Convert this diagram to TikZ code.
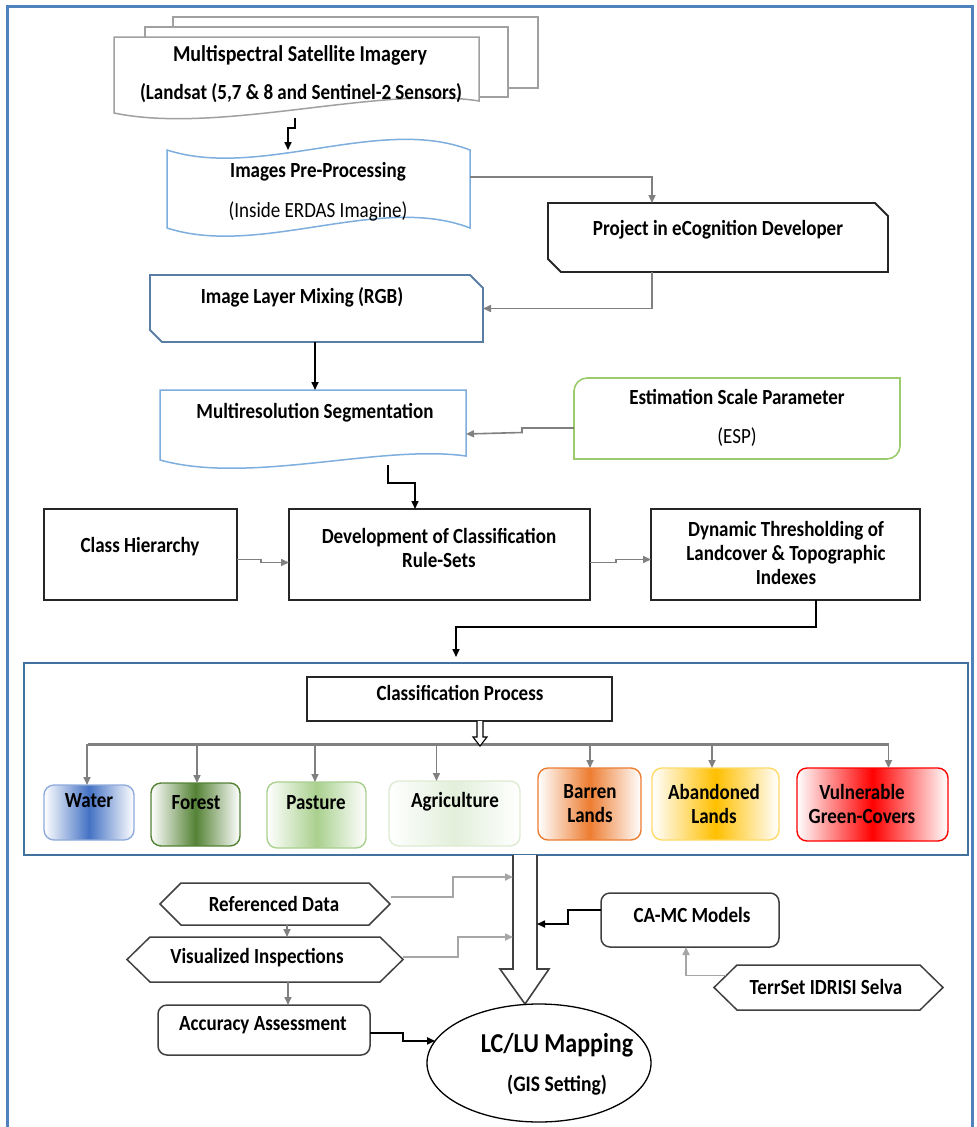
\documentclass[tikz,border=0pt]{standalone}
\usepackage{fontspec}
\setmainfont[FakeStretch=0.88]{Carlito}
\usetikzlibrary{arrows.meta,calc,shapes.geometric}
\definecolor{frameblue}{HTML}{4F81BD}
\definecolor{contblue}{HTML}{41719C}
\definecolor{docblue}{HTML}{7EAEDD}
\definecolor{slate}{HTML}{5A7DA6}
\definecolor{espgreen}{HTML}{9CCB6B}
\definecolor{docgray}{HTML}{A0A0A0}
\definecolor{lgray}{HTML}{A6A6A6}
\definecolor{mgray}{HTML}{808080}
\definecolor{dgray}{HTML}{404040}
\definecolor{cWater}{HTML}{4472C4}
\definecolor{cWaterL}{HTML}{8FAADC}
\definecolor{cForest}{HTML}{548235}
\definecolor{cPasture}{HTML}{A9D08E}
\definecolor{cAgri}{HTML}{E2EFDA}
\definecolor{cAgriL}{HTML}{DDEBD3}
\definecolor{cBarren}{HTML}{ED7D31}
\definecolor{cAband}{HTML}{FFC000}
\definecolor{cAbandL}{HTML}{FFD966}
\definecolor{cVuln}{HTML}{FF0000}
\begin{document}
\begin{tikzpicture}[x=1pt,y=-1pt,
  hid/.style={inner sep=0pt,outer sep=0pt},
  txt/.style={font=\fontsize{21.6}{24}\selectfont\bfseries,inner sep=0pt,align=center},
  txtr/.style={font=\fontsize{21.6}{24}\selectfont,inner sep=0pt,align=center},
  blk/.style={draw=black,line width=1.6pt,-{Triangle[length=8pt,width=7pt]}},
  gry/.style={draw=mgray,line width=1.6pt,-{Triangle[length=8pt,width=7pt]}},
  lgry/.style={draw=lgray,line width=1.6pt,-{Triangle[length=8pt,width=7pt]}},
  sqbox/.style={hid,draw=black!85,line width=1.6pt},
  rbox/.style={hid,draw=dgray,line width=1.5pt,rounded corners=9pt},
  cls/.style 2 args={hid,draw=#2,line width=1.4pt,rounded corners=10pt,
     left color=white,right color=white,middle color=#1}]
\useasboundingbox (0,0) rectangle (977,1127);

% outer frame
\draw[frameblue,line width=3pt] (7.5,1130) -- (7.5,6) -- (972,6) -- (972,1130);

% ---------- multi document ----------
\node[hid,minimum width=365pt,minimum height=79pt] (msi) at (296.5,76.5) {};
\draw[docgray,line width=1.5pt] (173,27) -- (173,17) -- (538,17) -- (538,88) -- (508,88);
\draw[docgray,line width=1.5pt] (145,37) -- (145,27) -- (508,27) -- (508,97) -- (479,97);
\draw[docgray,line width=1.5pt,fill=white] (114,37) -- (479,37) -- (479,101)
   .. controls (380,85) and (220,135) .. (114,113) -- cycle;
\node[txt,font=\fontsize{22.7}{24}\selectfont\bfseries] (msit) at (300,55) {Multispectral Satellite Imagery};
\node[txt] (msis) at (301,93) {(Landsat (5,7 \& 8 and Sentinel-2 Sensors)};

% ---------- images pre-processing (tape) ----------
\node[hid,minimum width=303pt,minimum height=84pt] (pre) at (318.5,192) {};
\draw[docblue,line width=1.5pt] (167,150) .. controls (260,180) and (380,115) .. (470,150)
   -- (470,228) .. controls (380,193) and (260,258) .. (167,228) -- cycle;
\node[txt] (pret) at (318,172) {Images Pre-Processing};
\node[txtr] (pres) at (318,211) {(Inside ERDAS Imagine)};

% ---------- eCognition ----------
\node[hid,minimum width=340pt,minimum height=69pt] (eco) at (718,237.5) {};
\draw[black!85,line width=1.8pt] (548,203) -- (875,203) -- (888,216) -- (888,272)
   -- (561,272) -- (548,259) -- cycle;
\node[txt] (ecot) at (718,230) {Project in eCognition Developer};

% ---------- image layer mixing ----------
\node[hid,minimum width=333pt,minimum height=67pt] (ilm) at (316.5,308.5) {};
\draw[slate,line width=1.8pt] (150,275) -- (470,275) -- (483,288) -- (483,342)
   -- (162,342) -- (150,330) -- cycle;
\node[txt] (ilmt) at (302,297) {Image Layer Mixing (RGB)};

% ---------- multiresolution segmentation ----------
\node[hid,minimum width=306pt,minimum height=72pt] (mrs) at (313,426) {};
\draw[docblue,line width=1.5pt] (160,390) -- (466,390) -- (466,456)
   .. controls (380,444) and (250,485) .. (160,460) -- cycle;
\node[txt] (mrst) at (315,413) {Multiresolution Segmentation};

% ---------- ESP ----------
\node[hid,minimum width=326pt,minimum height=81pt] (esp) at (737,418.5) {};
\draw[espgreen,line width=1.6pt] (574,459) -- (574,391) .. controls (574,384) and (580,378) .. (587,378)
   -- (900,378) -- (900,446) .. controls (900,453) and (894,459) .. (887,459) -- cycle;
\node[txt] (espt) at (737,397) {Estimation Scale Parameter};
\node[txtr] (esps) at (737,437) {(ESP)};

% ---------- row of three ----------
\node[sqbox,minimum width=193pt,minimum height=91pt] (ch) at (140.5,554.5) {};
\node[txt] (cht) at (140,547) {Class Hierarchy};
\node[sqbox,minimum width=301pt,minimum height=91pt] (dev) at (439.5,554.5) {};
\node[txt] (devt) at (439,548) {Development of Classification\\Rule-Sets};
\node[sqbox,minimum width=269pt,minimum height=91pt] (dyn) at (785.5,554.5) {};
\node[txt] (dynt) at (786,553) {Dynamic Thresholding of\\Landcover \& Topographic\\Indexes};

% ---------- classification container ----------
\node[hid,draw=contblue,line width=1.6pt,minimum width=944pt,minimum height=192pt] (cont) at (496,759) {};
\node[sqbox,minimum width=305pt,minimum height=44pt] (cp) at (459.5,699) {};
\node[txt] (cpt) at (460,693) {Classification Process};

\draw[mgray,line width=3pt] (88,744) -- (889,744);
\draw[black,line width=1.1pt,fill=white] (477,721) -- (477,737) -- (473,737) -- (480,746)
   -- (487,737) -- (483,737) -- (483,721);

\node[cls={cWater}{cWaterL},minimum width=90pt,minimum height=55pt] (water) at (89,812.5) {};
\node[txt] (watert) at (89,801) {Water};
\node[cls={cForest}{cForest},minimum width=89pt,minimum height=63pt] (forest) at (195.5,814.5) {};
\node[txt] (forestt) at (196,803) {Forest};
\node[cls={cPasture}{cPasture},minimum width=99pt,minimum height=66pt] (pasture) at (316.5,815) {};
\node[txt] (pasturet) at (316,803) {Pasture};
\node[cls={cAgri}{cAgriL},minimum width=131pt,minimum height=65pt] (agri) at (454.5,813.5) {};
\node[txt] (agrit) at (455,802) {Agriculture};
\node[cls={cBarren}{cBarren},minimum width=103pt,minimum height=72pt] (barren) at (589.5,804) {};
\node[txt] (barrent) at (590,803.5) {Barren\\Lands};
\node[cls={cAband}{cAbandL},minimum width=127pt,minimum height=72pt] (aband) at (715.5,804) {};
\node[txt] (abandt) at (714,803.5) {Abandoned\\Lands};
\node[cls={cVuln}{cVuln},minimum width=151pt,minimum height=73pt] (vuln) at (872.5,804.5) {};
\node[txt] (vulnt) at (862,803.5) {Vulnerable\\Green-Covers};

\draw[gry] ($(water.north)+(-2,-41)$) -- ($(water.north)+(-2,0)$);
\draw[gry] ($(forest.north)+(1.5,-39)$) -- ($(forest.north)+(1.5,0)$);
\draw[gry] ($(pasture.north)+(-1.5,-38)$) -- ($(pasture.north)+(-1.5,0)$);
\draw[gry] ($(agri.north)+(-18,-37)$) -- ($(agri.north)+(-18,0)$);
\draw[gry] ($(barren.north)+(0.5,-24)$) -- ($(barren.north)+(0.5,0)$);
\draw[gry] ($(aband.north)+(-3.5,-24)$) -- ($(aband.north)+(-3.5,0)$);
\draw[gry] ($(vuln.north)+(16,-24)$) -- ($(vuln.north)+(16,0)$);

% ---------- big hollow arrow ----------
\draw[dgray,line width=1.6pt,fill=white] (513,855) -- (513,969) -- (500,969) -- (525,1004)
   -- (549,969) -- (537,969) -- (537,855);
\coordinate (bigL1) at (513,877);
\coordinate (bigL2) at (513,937);
\coordinate (bigR) at (537,924);

% ---------- bottom area ----------
\node[hid,minimum width=230pt,minimum height=42pt] (ref) at (275,904) {};
\draw[dgray,line width=1.5pt] (160,904) -- (181,883) -- (369,883) -- (390,904) -- (369,925) -- (181,925) -- cycle;
\node[txt] (reft) at (274,904) {Referenced Data};

\node[hid,minimum width=276pt,minimum height=45pt] (vis) at (265,959.5) {};
\draw[dgray,line width=1.5pt] (127,959.5) -- (150,937) -- (380,937) -- (403,959.5) -- (380,982) -- (150,982) -- cycle;
\node[txt] (vist) at (257,958) {Visualized Inspections};

\node[rbox,minimum width=212pt,minimum height=50pt] (acc) at (264,1030) {};
\node[txt] (acct) at (263,1025) {Accuracy Assessment};

\node[hid,draw=black,line width=1.3pt,ellipse,minimum width=224pt,minimum height=118pt] (lclu) at (539,1063) {};
\node[txt,font=\fontsize{27.3}{28}\selectfont\bfseries] (lclut) at (557,1045) {LC/LU Mapping};
\node[txt,font=\fontsize{22.2}{24}\selectfont\bfseries] (lclus) at (557,1085) {(GIS Setting)};

\node[rbox,minimum width=178pt,minimum height=54pt] (camc) at (690,920) {};
\node[txt] (camct) at (692,915) {CA-MC Models};

\node[hid,minimum width=229pt,minimum height=45pt] (terr) at (828.5,987.5) {};
\draw[dgray,line width=1.5pt] (714,987.5) -- (737,965) -- (920,965) -- (943,987.5) -- (920,1010) -- (737,1010) -- cycle;
\node[txt] (terrt) at (826,987) {TerrSet IDRISI Selva};

% ---------- connectors ----------
\draw[blk] ($(msi.south)+(-1.5,2)$) -- ++(0,10) -| ($(pre.north)+(-30.5,0)$);
\draw[gry] ($(pre.east)+(0,-15)$) -| ($(eco.north)+(-66,0)$);
\draw[gry] ($(eco.south)+(-66,0)$) |- (ilm.east);
\draw[blk] ($(ilm.south)+(-1.5,0)$) -- ($(mrs.north)+(2,0)$);
\draw[gry] ($(esp.west)+(0,9.5)$) -- ++(-52,0) -- ++(0,4.5) -- ($(mrs.east)+(0,8)$);
\draw[blk] ($(mrs.south)+(75,3)$) -- ++(0,18) -| ($(dev.north)+(-24.5,0)$);
\draw[gry] ($(ch.east)+(0,5)$) -- ++(24,0) -- ++(0,3) -- ($(dev.west)+(0,8)$);
\draw[gry] ($(dev.east)+(0,8)$) -- ++(26,0) -- ++(0,-3) -- ($(dyn.west)+(0,5)$);
\draw[blk] ($(dyn.south)+(30.5,0)$) -- ++(0,27) -| ($(cont.north)+(-40,-6)$);

\draw[lgry] ($(ref.east)+(1,-7)$) -- ++(62,0) -- ++(0,-20) -- (bigL1);
\draw[lgry] ($(vis.east)+(0,-2.5)$) -- ++(55,0) -- ++(0,-20) -- (bigL2);
\draw[gry] ($(ref.south)+(12,0)$) -- ($(vis.north)+(22,0)$);
\draw[gry] ($(vis.south)+(23,0)$) -- ($(acc.north)+(24,0)$);
\draw[blk] ($(acc.east)+(0,3)$) -- ++(33,0) |- (lclu.168);
\draw[blk] ($(camc.west)+(0,-10)$) -- ++(-33,0) -- ++(0,14) -- (bigR);
\draw[lgry] ($(terr.west)+(12,-12)$) -| ($(camc.south)+(-4,0)$);
\end{tikzpicture}
\end{document}
